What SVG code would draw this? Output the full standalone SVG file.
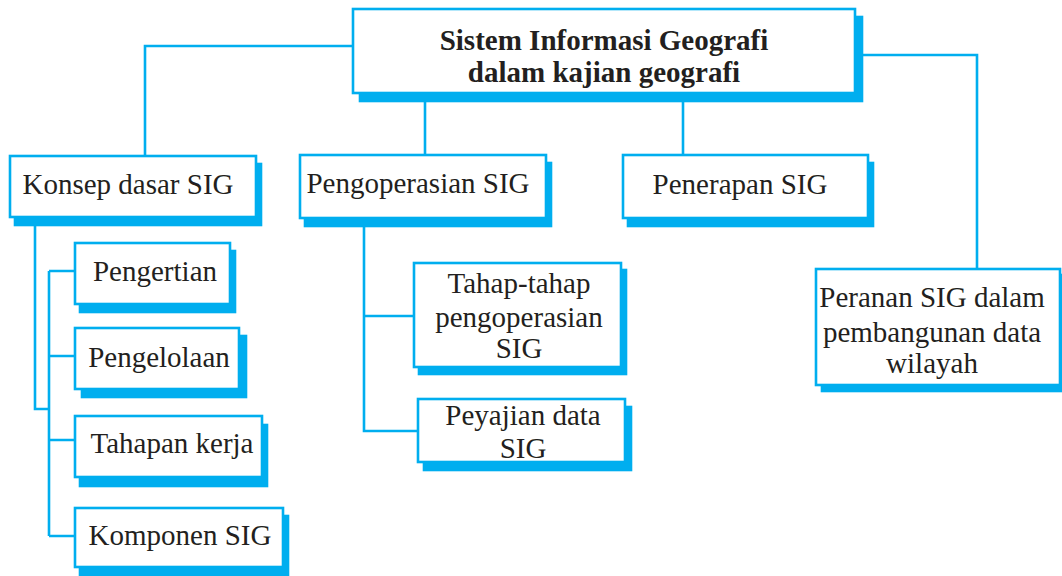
<svg xmlns="http://www.w3.org/2000/svg" width="1062" height="576" viewBox="0 0 1062 576">
<style>
.box{fill:#ffffff;stroke:#00aeef;stroke-width:2.6}
.sh{fill:#00aeef;stroke:#00aeef;stroke-width:2.6}
.ln{fill:none;stroke:#00aeef;stroke-width:2.6}
.t{font-family:"Liberation Serif","Times New Roman",serif;font-size:29px;fill:#231f20;text-anchor:middle}
.tb{font-family:"Liberation Serif","Times New Roman",serif;font-size:29px;font-weight:bold;fill:#231f20;text-anchor:middle}
</style>
<rect width="1062" height="576" fill="#ffffff"/>
<g id="connectors">
<path class="ln" d="M353,46 H145 V156"/>
<path class="ln" d="M855,55 H977 V269"/>
<path class="ln" d="M425,93 V155"/>
<path class="ln" d="M683,93 V155"/>
<path class="ln" d="M35,217 V409 H49"/>
<path class="ln" d="M49,271 V536"/>
<path class="ln" d="M49,271 H75 M49,356 H75 M49,440 H75 M49,536 H75"/>
<path class="ln" d="M364,218 V431 H418"/>
<path class="ln" d="M364,316 H414"/>
</g>
<g id="root">
<rect class="sh" x="360" y="17" width="502" height="84"/>
<rect class="box" x="353" y="9" width="502" height="84"/>
<text class="tb" x="604" y="50">Sistem Informasi Geografi</text>
<text class="tb" x="604" y="82">dalam kajian geografi</text>
</g>
<g id="konsep">
<rect class="sh" x="15" y="164" width="246" height="61"/>
<rect class="box" x="10" y="156" width="246" height="61"/>
<text class="t" x="128" y="194">Konsep dasar SIG</text>
</g>
<g id="pengertian">
<rect class="sh" x="80" y="251" width="155" height="61"/>
<rect class="box" x="75" y="243" width="155" height="61"/>
<text class="t" x="155" y="281">Pengertian</text>
</g>
<g id="pengelolaan">
<rect class="sh" x="82" y="336" width="164" height="61"/>
<rect class="box" x="75" y="328" width="164" height="61"/>
<text class="t" x="159" y="367">Pengelolaan</text>
</g>
<g id="tahapan">
<rect class="sh" x="80" y="425" width="187" height="61"/>
<rect class="box" x="75" y="416" width="187" height="61"/>
<text class="t" x="172" y="453">Tahapan kerja</text>
</g>
<g id="komponen">
<rect class="sh" x="80" y="516" width="208" height="59"/>
<rect class="box" x="75" y="508" width="208" height="59"/>
<text class="t" x="180" y="545">Komponen SIG</text>
</g>
<g id="pengoperasian">
<rect class="sh" x="305" y="163" width="246" height="63"/>
<rect class="box" x="300" y="155" width="246" height="63"/>
<text class="t" x="418" y="193">Pengoperasian SIG</text>
</g>
<g id="penerapan">
<rect class="sh" x="628" y="163" width="245" height="63"/>
<rect class="box" x="623" y="155" width="245" height="63"/>
<text class="t" x="740" y="194">Penerapan SIG</text>
</g>
<g id="tahap">
<rect class="sh" x="419" y="270" width="207" height="104"/>
<rect class="box" x="414" y="263" width="207" height="104"/>
<text class="t" x="519" y="293">Tahap-tahap</text>
<text class="t" x="519" y="327">pengoperasian</text>
<text class="t" x="519" y="358">SIG</text>
</g>
<g id="peyajian">
<rect class="sh" x="424" y="407" width="207" height="63"/>
<rect class="box" x="418" y="399" width="207" height="63"/>
<text class="t" x="523" y="425">Peyajian data</text>
<text class="t" x="523" y="458">SIG</text>
</g>
<g id="peranan">
<rect class="sh" x="822" y="275" width="244" height="116"/>
<rect class="box" x="816" y="269" width="244" height="116"/>
<text class="t" x="932" y="307">Peranan SIG dalam</text>
<text class="t" x="932" y="342">pembangunan data</text>
<text class="t" x="932" y="373">wilayah</text>
</g>
</svg>
